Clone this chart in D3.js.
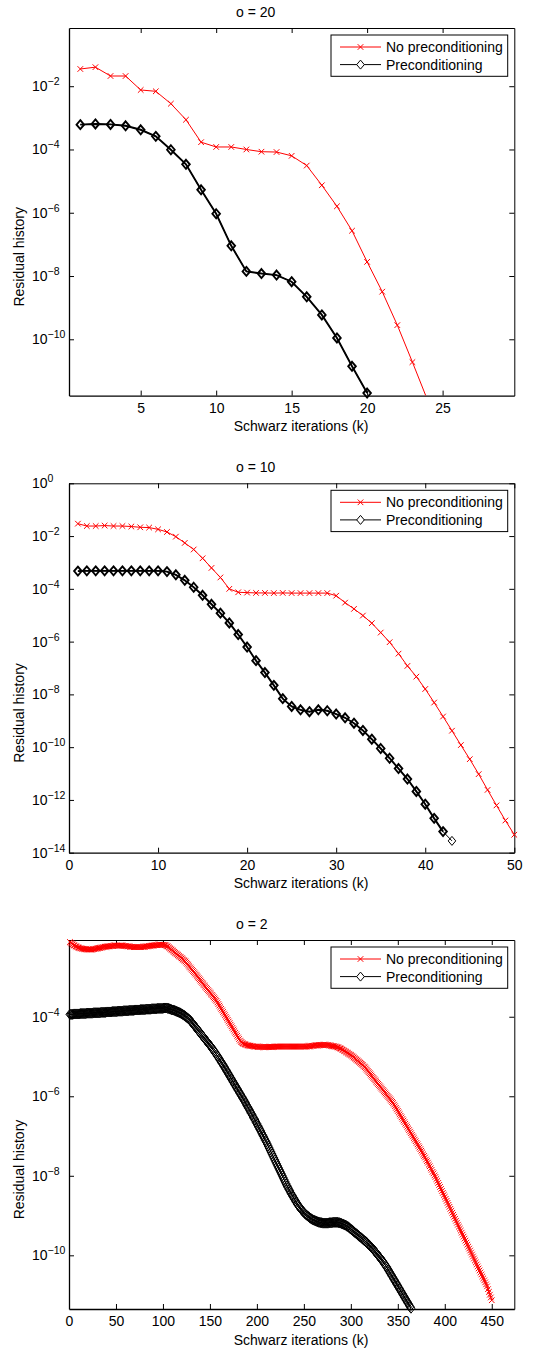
<!DOCTYPE html>
<html>
<head>
<meta charset="utf-8">
<script src="https://cdn.jsdelivr.net/npm/d3@7/dist/d3.min.js"></script>
<style>
	body { margin: 0; background: #fff; }
	svg { display: block; font-family: 'Liberation Sans', Arial, sans-serif; }
</style>
</head>
<body>
<div id="chart"></div>
<script>
// ---- o = 20 ----
const noPrec20 = [0.035, 0.040, 0.021, 0.021, 0.0076, 0.0069, 0.0028, 8.7e-4, 1.7e-4, 1.2e-4,
	1.2e-4, 1.0e-4, 8.5e-5, 8.3e-5, 6.3e-5, 3.1e-5, 7.4e-6, 1.6e-6, 2.7e-7, 2.8e-8,
	3.2e-9, 2.8e-10, 1.9e-11, 1.2e-12]
const prec20 = [6.1e-4, 6.4e-4, 6.2e-4, 5.6e-4, 4.2e-4, 2.6e-4, 9.8e-5, 3.4e-5, 5.3e-6, 9.3e-7,
	9.0e-8, 1.4e-8, 1.2e-8, 1.07e-8, 6.6e-9, 2.2e-9, 5.9e-10, 1.1e-10, 1.4e-11, 2.0e-12]
const xTicks20 = [5, 10, 15, 20, 25]
const yTicks20 = [-2, -4, -6, -8, -10]

// ---- o = 10 ----
const noPrec10 = [0.0295, 0.024, 0.024, 0.025, 0.024, 0.024, 0.023, 0.0215, 0.021, 0.018,
	0.0143, 0.0095, 0.0055, 0.0031, 0.00144, 6.2e-4, 2.7e-4, 1.0e-4, 7.4e-5, 7.2e-5,
	7.0e-5, 7.0e-5, 6.9e-5, 7.0e-5, 6.9e-5, 6.9e-5, 6.9e-5, 6.9e-5, 6.9e-5, 5.5e-5,
	3.0e-5, 1.74e-5, 9.7e-6, 5.0e-6, 2.2e-6, 9.5e-7, 3.5e-7, 1.2e-7, 4.7e-8, 1.6e-8,
	4.9e-9, 1.45e-9, 4.2e-10, 1.2e-10, 3.5e-11, 9.5e-12, 2.4e-12, 6.2e-13, 1.66e-13, 4.8e-14]
const prec10 = [4.7e-4, 4.8e-4, 4.8e-4, 4.8e-4, 4.8e-4, 4.8e-4, 4.8e-4, 4.8e-4, 4.8e-4, 4.8e-4,
	4.5e-4, 3.4e-4, 2.1e-4, 1.15e-4, 5.7e-5, 2.6e-5, 1.2e-5, 5.1e-6, 1.85e-6, 6.2e-7,
	1.9e-7, 6.7e-8, 2.2e-8, 6.9e-9, 3.5e-9, 2.6e-9, 2.2e-9, 2.6e-9, 2.4e-9, 1.8e-9,
	1.3e-9, 8.1e-10, 4.3e-10, 2.0e-10, 8.9e-11, 3.8e-11, 1.55e-11, 6.2e-12, 2.1e-12, 6.9e-13,
	2.0e-13, 6.3e-14, 2.8e-14]
const xTicks10 = [0, 10, 20, 30, 40, 50]
const yTicks10 = [0, -2, -4, -6, -8, -10, -12, -14]

// ---- o = 2 (values given as -log10 of the residual) ----
const noPrecExp2 = [
	2.12, 2.14, 2.16, 2.18, 2.20, 2.21, 2.23, 2.24, 2.25, 2.26,
	2.27, 2.28, 2.28, 2.29, 2.29, 2.30, 2.30, 2.30, 2.31, 2.31,
	2.31, 2.31, 2.31, 2.31, 2.30, 2.30, 2.30, 2.29, 2.29, 2.28,
	2.28, 2.27, 2.27, 2.26, 2.26, 2.25, 2.25, 2.24, 2.24, 2.24,
	2.23, 2.23, 2.23, 2.22, 2.22, 2.22, 2.22, 2.21, 2.21, 2.21,
	2.21, 2.21, 2.21, 2.21, 2.21, 2.21, 2.21, 2.22, 2.22, 2.22,
	2.22, 2.23, 2.23, 2.23, 2.24, 2.24, 2.24, 2.24, 2.25, 2.25,
	2.25, 2.25, 2.25, 2.25, 2.25, 2.25, 2.25, 2.24, 2.24, 2.24,
	2.24, 2.23, 2.23, 2.23, 2.22, 2.22, 2.22, 2.21, 2.21, 2.21,
	2.20, 2.20, 2.20, 2.20, 2.19, 2.19, 2.19, 2.19, 2.19, 2.19,
	2.19, 2.20, 2.21, 2.22, 2.23, 2.25, 2.27, 2.29, 2.31, 2.33,
	2.35, 2.37, 2.39, 2.41, 2.43, 2.45, 2.47, 2.49, 2.51, 2.53,
	2.55, 2.57, 2.59, 2.61, 2.64, 2.67, 2.70, 2.73, 2.76, 2.79,
	2.82, 2.85, 2.88, 2.91, 2.94, 2.97, 3.00, 3.03, 3.06, 3.09,
	3.12, 3.15, 3.18, 3.21, 3.24, 3.27, 3.30, 3.33, 3.36, 3.39,
	3.42, 3.45, 3.48, 3.51, 3.54, 3.57, 3.60, 3.64, 3.68, 3.72,
	3.76, 3.80, 3.84, 3.88, 3.92, 3.96, 4.00, 4.04, 4.08, 4.12,
	4.16, 4.20, 4.24, 4.28, 4.32, 4.36, 4.40, 4.44, 4.48, 4.52,
	4.56, 4.60, 4.63, 4.65, 4.67, 4.68, 4.69, 4.70, 4.71, 4.72,
	4.72, 4.73, 4.73, 4.74, 4.74, 4.74, 4.75, 4.75, 4.75, 4.75,
	4.76, 4.76, 4.76, 4.76, 4.76, 4.76, 4.76, 4.76, 4.76, 4.76,
	4.76, 4.76, 4.76, 4.76, 4.76, 4.76, 4.76, 4.76, 4.75, 4.75,
	4.75, 4.75, 4.75, 4.75, 4.75, 4.75, 4.75, 4.75, 4.75, 4.75,
	4.75, 4.75, 4.75, 4.75, 4.75, 4.75, 4.75, 4.75, 4.75, 4.75,
	4.75, 4.75, 4.75, 4.75, 4.75, 4.75, 4.75, 4.75, 4.75, 4.75,
	4.75, 4.75, 4.75, 4.74, 4.74, 4.74, 4.74, 4.73, 4.73, 4.73,
	4.73, 4.72, 4.72, 4.72, 4.72, 4.71, 4.71, 4.71, 4.71, 4.71,
	4.71, 4.71, 4.71, 4.71, 4.71, 4.71, 4.72, 4.72, 4.73, 4.74,
	4.74, 4.74, 4.75, 4.75, 4.76, 4.77, 4.78, 4.79, 4.80, 4.81,
	4.83, 4.84, 4.86, 4.87, 4.89, 4.90, 4.92, 4.93, 4.95, 4.96,
	4.98, 5.00, 5.02, 5.04, 5.06, 5.08, 5.10, 5.12, 5.14, 5.16,
	5.18, 5.20, 5.22, 5.25, 5.27, 5.30, 5.33, 5.36, 5.39, 5.42,
	5.45, 5.48, 5.51, 5.54, 5.57, 5.60, 5.63, 5.66, 5.69, 5.72,
	5.75, 5.78, 5.81, 5.84, 5.87, 5.90, 5.93, 5.96, 5.99, 6.02,
	6.05, 6.08, 6.11, 6.14, 6.17, 6.21, 6.25, 6.29, 6.33, 6.37,
	6.41, 6.45, 6.49, 6.53, 6.57, 6.61, 6.65, 6.69, 6.73, 6.77,
	6.81, 6.85, 6.89, 6.93, 6.97, 7.01, 7.05, 7.09, 7.13, 7.17,
	7.21, 7.25, 7.29, 7.33, 7.37, 7.41, 7.46, 7.50, 7.54, 7.59,
	7.63, 7.67, 7.72, 7.76, 7.81, 7.85, 7.90, 7.94, 7.99, 8.03,
	8.08, 8.13, 8.18, 8.23, 8.28, 8.33, 8.38, 8.43, 8.48, 8.53,
	8.58, 8.63, 8.68, 8.73, 8.78, 8.83, 8.88, 8.93, 8.98, 9.03,
	9.08, 9.13, 9.18, 9.23, 9.28, 9.33, 9.38, 9.43, 9.48, 9.53,
	9.58, 9.63, 9.68, 9.73, 9.78, 9.83, 9.88, 9.93, 9.98, 10.03,
	10.08, 10.13, 10.18, 10.23, 10.28, 10.33, 10.38, 10.43, 10.48, 10.53,
	10.58, 10.63, 10.68, 10.73, 10.78, 10.85, 10.92, 10.99, 11.06, 11.13]
const precExp2 = [
	3.94, 3.94, 3.94, 3.94, 3.93, 3.93, 3.93, 3.93, 3.93, 3.93,
	3.93, 3.92, 3.92, 3.92, 3.92, 3.92, 3.92, 3.92, 3.91, 3.91,
	3.91, 3.91, 3.91, 3.91, 3.91, 3.90, 3.90, 3.90, 3.90, 3.90,
	3.90, 3.90, 3.90, 3.89, 3.89, 3.89, 3.89, 3.89, 3.89, 3.88,
	3.88, 3.88, 3.88, 3.88, 3.88, 3.87, 3.87, 3.87, 3.87, 3.87,
	3.87, 3.86, 3.86, 3.86, 3.86, 3.86, 3.86, 3.85, 3.85, 3.85,
	3.85, 3.85, 3.85, 3.84, 3.84, 3.84, 3.84, 3.84, 3.84, 3.83,
	3.83, 3.83, 3.83, 3.83, 3.83, 3.82, 3.82, 3.82, 3.82, 3.82,
	3.82, 3.81, 3.81, 3.81, 3.81, 3.81, 3.81, 3.80, 3.80, 3.80,
	3.80, 3.80, 3.80, 3.79, 3.79, 3.79, 3.79, 3.79, 3.79, 3.79,
	3.78, 3.78, 3.78, 3.78, 3.79, 3.79, 3.80, 3.81, 3.82, 3.83,
	3.83, 3.84, 3.85, 3.86, 3.87, 3.88, 3.89, 3.90, 3.91, 3.93,
	3.94, 3.96, 3.97, 3.99, 4.01, 4.03, 4.05, 4.07, 4.09, 4.12,
	4.15, 4.18, 4.21, 4.24, 4.27, 4.30, 4.33, 4.36, 4.39, 4.42,
	4.45, 4.48, 4.51, 4.54, 4.57, 4.60, 4.63, 4.66, 4.69, 4.72,
	4.75, 4.78, 4.82, 4.85, 4.88, 4.92, 4.95, 4.99, 5.02, 5.06,
	5.10, 5.14, 5.17, 5.21, 5.25, 5.29, 5.33, 5.37, 5.41, 5.45,
	5.49, 5.53, 5.57, 5.61, 5.65, 5.69, 5.73, 5.77, 5.81, 5.85,
	5.89, 5.93, 5.97, 6.01, 6.05, 6.09, 6.13, 6.17, 6.22, 6.26,
	6.30, 6.34, 6.39, 6.43, 6.47, 6.52, 6.56, 6.60, 6.65, 6.69,
	6.74, 6.78, 6.83, 6.87, 6.92, 6.97, 7.01, 7.06, 7.11, 7.15,
	7.20, 7.25, 7.30, 7.35, 7.40, 7.45, 7.50, 7.55, 7.60, 7.65,
	7.70, 7.75, 7.80, 7.85, 7.90, 7.95, 8.00, 8.05, 8.10, 8.15,
	8.20, 8.25, 8.29, 8.34, 8.38, 8.43, 8.47, 8.51, 8.55, 8.59,
	8.63, 8.67, 8.71, 8.74, 8.78, 8.81, 8.84, 8.87, 8.90, 8.92,
	8.95, 8.97, 8.99, 9.01, 9.03, 9.05, 9.07, 9.08, 9.10, 9.11,
	9.12, 9.13, 9.14, 9.15, 9.16, 9.17, 9.17, 9.18, 9.18, 9.19,
	9.19, 9.19, 9.19, 9.19, 9.19, 9.19, 9.18, 9.18, 9.18, 9.18,
	9.17, 9.17, 9.17, 9.17, 9.17, 9.17, 9.18, 9.18, 9.19, 9.20,
	9.21, 9.22, 9.23, 9.24, 9.25, 9.27, 9.28, 9.30, 9.32, 9.34,
	9.36, 9.38, 9.40, 9.42, 9.44, 9.46, 9.48, 9.50, 9.52, 9.54,
	9.56, 9.58, 9.60, 9.62, 9.64, 9.66, 9.68, 9.71, 9.73, 9.75,
	9.78, 9.80, 9.83, 9.85, 9.88, 9.91, 9.94, 9.97, 10.00, 10.03,
	10.06, 10.09, 10.12, 10.15, 10.19, 10.22, 10.26, 10.29, 10.33, 10.37,
	10.41, 10.45, 10.49, 10.53, 10.57, 10.61, 10.65, 10.69, 10.73, 10.77,
	10.81, 10.85, 10.89, 10.93, 10.97, 11.01, 11.05, 11.09, 11.13, 11.17,
	11.21, 11.25, 11.29, 11.33]
const xTicks2 = [0, 50, 100, 150, 200, 250, 300, 350, 400, 450]
const yTicks2 = [-4, -6, -8, -10]

const legendLabels = ['No preconditioning', 'Preconditioning']

const W = 548
const H = 1351
const left = 69
const right = 514.3

const panels = [
	{
		title: 'o = 20', top: 28, bottom: 395.6,
		xDomain: [0.25, 29.75], xTicks: xTicks20,
		yExp: [-11.78, -0.16], yTicks: yTicks20,
		red: noPrec20, black: prec20,
		blackWidth: 1.9, boldCount: prec20.length, dia: [3.8, 4.5]
	},
	{
		title: 'o = 10', top: 483.3, bottom: 852.7,
		xDomain: [0, 50], xTicks: xTicks10,
		yExp: [-14, 0], yTicks: yTicks10,
		red: noPrec10, black: prec10,
		blackWidth: 1.9, boldCount: prec10.length - 1, dia: [3.8, 4.5]
	},
	{
		title: 'o = 2', top: 940, bottom: 1309,
		xDomain: [0, 474], xTicks: xTicks2,
		yExp: [-11.35, -2.07], yTicks: yTicks2,
		red: noPrecExp2.map(e => 10 ** -e), black: precExp2.map(e => 10 ** -e),
		blackWidth: 1, boldCount: precExp2.length, dia: [4, 5]
	}
]

const cross = 'M-2.8,-2.8L2.8,2.8M-2.8,2.8L2.8,-2.8'
const diamondPath = (w, h) => `M0,${-h}L${w},0L0,${h}L${-w},0Z`

const svg = d3
	.select('#chart')
	.append('svg')
	.attr('width', W)
	.attr('height', H)

svg.append('rect').attr('width', W).attr('height', H).attr('fill', '#fff')

panels.forEach((p, i) => drawPanel(p, i))

function drawPanel(p, i) {
	const x = d3.scaleLinear().domain(p.xDomain).range([left, right])
	const y = d3
		.scaleLog()
		.domain([10 ** p.yExp[0], 10 ** p.yExp[1]])
		.range([p.bottom, p.top])

	const g = svg.append('g')

	svg
		.append('clipPath')
		.attr('id', `clip${i}`)
		.append('rect')
		.attr('x', left)
		.attr('y', p.top)
		.attr('width', right - left)
		.attr('height', p.bottom - p.top)

	const yVals = p.yTicks.map(e => 10 ** e)

	// axes: ticks point inwards on all four sides
	const bottomAxis = g
		.append('g')
		.attr('transform', `translate(0,${p.bottom})`)
		.call(
			d3
				.axisBottom(x)
				.tickValues(p.xTicks)
				.tickSizeInner(-5)
				.tickSizeOuter(0)
				.tickPadding(7.5)
				.tickFormat(d3.format('d'))
		)
	bottomAxis.attr('font-size', 14).attr('font-family', null)

	g.append('g')
		.attr('transform', `translate(0,${p.top})`)
		.call(d3.axisTop(x).tickValues(p.xTicks).tickSizeInner(-5).tickSizeOuter(0).tickFormat(''))

	const leftAxis = g
		.append('g')
		.attr('transform', `translate(${left},0)`)
		.call(d3.axisLeft(y).tickValues(yVals).tickSizeInner(-5).tickSizeOuter(0).tickFormat(() => ''))
	leftAxis.attr('font-size', 14).attr('font-family', null)

	leftAxis
		.selectAll('.tick text')
		.attr('x', 32 - left)
		.attr('text-anchor', 'start')
		.each(function (d) {
			const t = d3.select(this)
			const e = Math.round(Math.log10(d))
			t.append('tspan').text('10')
			t.append('tspan')
				.attr('dy', -6)
				.attr('font-size', 10.5)
				.text(e < 0 ? `\u2212${-e}` : `${e}`)
		})

	g.append('g')
		.attr('transform', `translate(${right},0)`)
		.call(d3.axisRight(y).tickValues(yVals).tickSizeInner(-5).tickSizeOuter(0).tickFormat(''))

	g.selectAll('.domain').attr('stroke', '#000')
	bottomAxis.select('.domain').attr('stroke-width', 1.3)
	leftAxis.select('.domain').attr('stroke-width', 1.3)

	// texts
	g.append('text')
		.attr('x', 236)
		.attr('y', p.top - 16)
		.attr('dominant-baseline', 'central')
		.attr('font-size', 14)
		.text(p.title)

	g.append('text')
		.attr('x', 301)
		.attr('y', p.bottom + 30.5)
		.attr('text-anchor', 'middle')
		.attr('dominant-baseline', 'central')
		.attr('font-size', 14)
		.text('Schwarz iterations (k)')

	g.append('text')
		.attr('transform', `translate(19,${(p.top + p.bottom) / 2 + 45}) rotate(-90)`)
		.attr('text-anchor', 'middle')
		.attr('dominant-baseline', 'central')
		.attr('font-size', 14)
		.text('Residual history')

	// series
	const inside = d => d.v >= 10 ** p.yExp[0] * 0.999 && d.v <= 10 ** p.yExp[1]
	const line = d3
		.line()
		.x(d => x(d.k))
		.y(d => y(d.v))

	const redPts = p.red.map((v, j) => ({ k: j + 1, v }))
	const blackPts = p.black.map((v, j) => ({ k: j + 1, v }))
	const diamond = diamondPath(p.dia[0], p.dia[1])

	const plot = g.append('g').attr('clip-path', `url(#clip${i})`)

	plot.append('path')
		.datum(redPts)
		.attr('d', line)
		.attr('fill', 'none')
		.attr('stroke', '#ff0000')
		.attr('stroke-width', 1)

	g.append('g')
		.selectAll('path')
		.data(redPts.filter(inside))
		.join('path')
		.attr('transform', d => `translate(${x(d.k)},${y(d.v)})`)
		.attr('d', cross)
		.attr('fill', 'none')
		.attr('stroke', '#ff0000')
		.attr('stroke-width', 1)

	plot.append('path')
		.datum(blackPts)
		.attr('d', line)
		.attr('fill', 'none')
		.attr('stroke', '#000')
		.attr('stroke-width', 1)

	plot.append('path')
		.datum(blackPts.slice(0, p.boldCount))
		.attr('d', line)
		.attr('fill', 'none')
		.attr('stroke', '#000')
		.attr('stroke-width', p.blackWidth)

	g.append('g')
		.selectAll('path')
		.data(blackPts.filter(inside))
		.join('path')
		.attr('transform', d => `translate(${x(d.k)},${y(d.v)})`)
		.attr('d', diamond)
		.attr('fill', 'none')
		.attr('stroke', '#000')
		.attr('stroke-width', d => (d.k <= p.boldCount ? p.blackWidth : 1))

	// legend
	const lg = g.append('g').attr('transform', `translate(331,${p.top + 7})`)

	lg.append('rect')
		.attr('width', 176.7)
		.attr('height', 41.3)
		.attr('fill', '#fff')
		.attr('stroke', '#000')
		.attr('stroke-width', 1)

	const rows = [
		{ label: legendLabels[0], color: '#ff0000', shape: cross },
		{ label: legendLabels[1], color: '#000', shape: diamondPath(3.8, 4.5) }
	]

	rows.forEach((r, j) => {
		const ry = 12 + j * 17.6
		lg.append('line')
			.attr('x1', 9)
			.attr('x2', 50)
			.attr('y1', ry)
			.attr('y2', ry)
			.attr('stroke', r.color)
		lg.append('path')
			.attr('transform', `translate(29.5,${ry})`)
			.attr('d', r.shape)
			.attr('fill', '#fff')
			.attr('stroke', r.color)
		lg.append('text')
			.attr('x', 55)
			.attr('y', ry)
			.attr('dominant-baseline', 'central')
			.attr('font-size', 14)
			.text(r.label)
	})
}
</script>
</body>
</html>
